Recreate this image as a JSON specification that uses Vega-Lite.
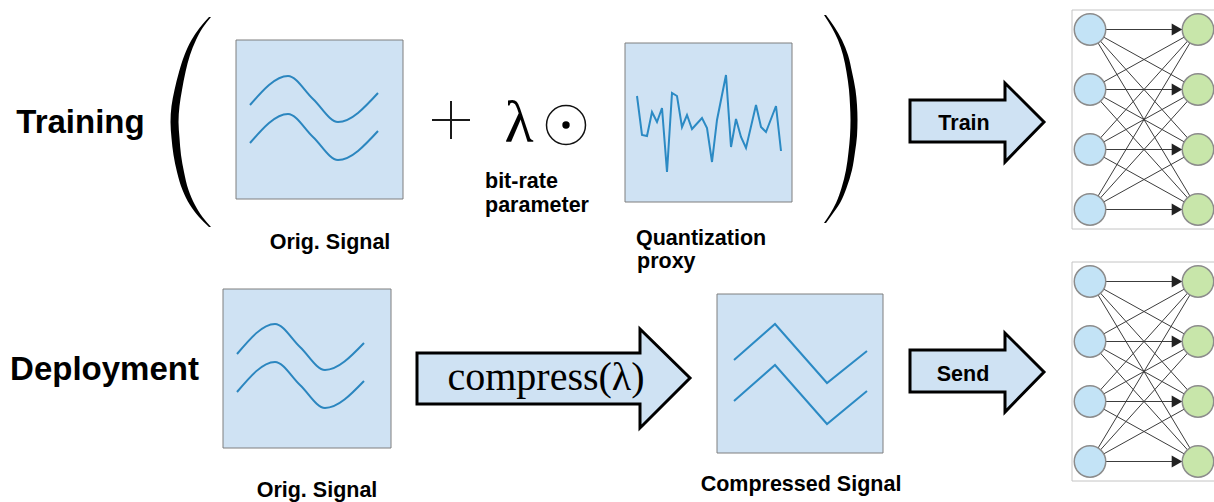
{
  "$schema": "https://vega.github.io/schema/vega-lite/v6.json",
  "width": 1214,
  "height": 502,
  "padding": 0,
  "autosize": {"type": "fit", "contains": "padding"},
  "background": "white",
  "config": {"view": {"stroke": null}},
  "datasets": {
    "nnbox": [
      {"x": 1072, "x2": 1222, "y": 10, "y2": 229},
      {"x": 1072, "x2": 1222, "y": 262, "y2": 481}
    ],
    "edges": [
      {"x": 1090, "y": 29.5, "x2": 1198, "y2": 29.5}, {"x": 1090, "y": 29.5, "x2": 1198, "y2": 89.5}, {"x": 1090, "y": 29.5, "x2": 1198, "y2": 149.5}, {"x": 1090, "y": 29.5, "x2": 1198, "y2": 209.5},
      {"x": 1090, "y": 89.5, "x2": 1198, "y2": 29.5}, {"x": 1090, "y": 89.5, "x2": 1198, "y2": 89.5}, {"x": 1090, "y": 89.5, "x2": 1198, "y2": 149.5}, {"x": 1090, "y": 89.5, "x2": 1198, "y2": 209.5},
      {"x": 1090, "y": 149.5, "x2": 1198, "y2": 29.5}, {"x": 1090, "y": 149.5, "x2": 1198, "y2": 89.5}, {"x": 1090, "y": 149.5, "x2": 1198, "y2": 149.5}, {"x": 1090, "y": 149.5, "x2": 1198, "y2": 209.5},
      {"x": 1090, "y": 209.5, "x2": 1198, "y2": 29.5}, {"x": 1090, "y": 209.5, "x2": 1198, "y2": 89.5}, {"x": 1090, "y": 209.5, "x2": 1198, "y2": 149.5}, {"x": 1090, "y": 209.5, "x2": 1198, "y2": 209.5},
      {"x": 1090, "y": 281.5, "x2": 1198, "y2": 281.5}, {"x": 1090, "y": 281.5, "x2": 1198, "y2": 341.5}, {"x": 1090, "y": 281.5, "x2": 1198, "y2": 401.5}, {"x": 1090, "y": 281.5, "x2": 1198, "y2": 461.5},
      {"x": 1090, "y": 341.5, "x2": 1198, "y2": 281.5}, {"x": 1090, "y": 341.5, "x2": 1198, "y2": 341.5}, {"x": 1090, "y": 341.5, "x2": 1198, "y2": 401.5}, {"x": 1090, "y": 341.5, "x2": 1198, "y2": 461.5},
      {"x": 1090, "y": 401.5, "x2": 1198, "y2": 281.5}, {"x": 1090, "y": 401.5, "x2": 1198, "y2": 341.5}, {"x": 1090, "y": 401.5, "x2": 1198, "y2": 401.5}, {"x": 1090, "y": 401.5, "x2": 1198, "y2": 461.5},
      {"x": 1090, "y": 461.5, "x2": 1198, "y2": 281.5}, {"x": 1090, "y": 461.5, "x2": 1198, "y2": 341.5}, {"x": 1090, "y": 461.5, "x2": 1198, "y2": 401.5}, {"x": 1090, "y": 461.5, "x2": 1198, "y2": 461.5}
    ],
    "nodes": [
      {"role": "in", "x": 1090, "y": 29.5}, {"role": "in", "x": 1090, "y": 89.5}, {"role": "in", "x": 1090, "y": 149.5}, {"role": "in", "x": 1090, "y": 209.5},
      {"role": "out", "x": 1198, "y": 29.5}, {"role": "out", "x": 1198, "y": 89.5}, {"role": "out", "x": 1198, "y": 149.5}, {"role": "out", "x": 1198, "y": 209.5},
      {"role": "in", "x": 1090, "y": 281.5}, {"role": "in", "x": 1090, "y": 341.5}, {"role": "in", "x": 1090, "y": 401.5}, {"role": "in", "x": 1090, "y": 461.5},
      {"role": "out", "x": 1198, "y": 281.5}, {"role": "out", "x": 1198, "y": 341.5}, {"role": "out", "x": 1198, "y": 401.5}, {"role": "out", "x": 1198, "y": 461.5}
    ],
    "boxes": [
      {"x": 236, "x2": 403, "y": 40, "y2": 199},
      {"x": 625, "x2": 792, "y": 43, "y2": 202},
      {"x": 223, "x2": 391, "y": 289, "y2": 448},
      {"x": 717, "x2": 883, "y": 294, "y2": 453}
    ],
    "sines": [
      {"id": "s1u", "i": 0, "x": 250, "y": 105}, {"id": "s1u", "i": 1, "x": 288, "y": 76}, {"id": "s1u", "i": 2, "x": 313, "y": 99}, {"id": "s1u", "i": 3, "x": 338, "y": 122}, {"id": "s1u", "i": 4, "x": 378, "y": 93},
      {"id": "s1l", "i": 0, "x": 250, "y": 143}, {"id": "s1l", "i": 1, "x": 288, "y": 114}, {"id": "s1l", "i": 2, "x": 313, "y": 137}, {"id": "s1l", "i": 3, "x": 338, "y": 160}, {"id": "s1l", "i": 4, "x": 378, "y": 131},
      {"id": "s3u", "i": 0, "x": 237, "y": 354}, {"id": "s3u", "i": 1, "x": 275, "y": 324}, {"id": "s3u", "i": 2, "x": 300, "y": 347}, {"id": "s3u", "i": 3, "x": 325, "y": 370}, {"id": "s3u", "i": 4, "x": 364, "y": 343},
      {"id": "s3l", "i": 0, "x": 237, "y": 392}, {"id": "s3l", "i": 1, "x": 275, "y": 362}, {"id": "s3l", "i": 2, "x": 300, "y": 385}, {"id": "s3l", "i": 3, "x": 325, "y": 408}, {"id": "s3l", "i": 4, "x": 364, "y": 381}
    ],
    "polylines": [
      {"id": "z4u", "i": 0, "x": 734, "y": 360}, {"id": "z4u", "i": 1, "x": 775, "y": 324}, {"id": "z4u", "i": 2, "x": 827, "y": 383}, {"id": "z4u", "i": 3, "x": 867, "y": 351},
      {"id": "z4l", "i": 0, "x": 734, "y": 401}, {"id": "z4l", "i": 1, "x": 775, "y": 365}, {"id": "z4l", "i": 2, "x": 827, "y": 424}, {"id": "z4l", "i": 3, "x": 867, "y": 391},
      {"id": "noise", "i": 0, "x": 637, "y": 96}, {"id": "noise", "i": 1, "x": 642, "y": 135}, {"id": "noise", "i": 2, "x": 647, "y": 136}, {"id": "noise", "i": 3, "x": 652, "y": 112},
      {"id": "noise", "i": 4, "x": 657, "y": 122}, {"id": "noise", "i": 5, "x": 662, "y": 108}, {"id": "noise", "i": 6, "x": 667, "y": 172}, {"id": "noise", "i": 7, "x": 672, "y": 93},
      {"id": "noise", "i": 8, "x": 677, "y": 96}, {"id": "noise", "i": 9, "x": 682, "y": 127}, {"id": "noise", "i": 10, "x": 687, "y": 115}, {"id": "noise", "i": 11, "x": 692, "y": 129},
      {"id": "noise", "i": 12, "x": 702, "y": 118}, {"id": "noise", "i": 13, "x": 707, "y": 128}, {"id": "noise", "i": 14, "x": 712, "y": 162}, {"id": "noise", "i": 15, "x": 717, "y": 120},
      {"id": "noise", "i": 16, "x": 726, "y": 75}, {"id": "noise", "i": 17, "x": 731, "y": 147}, {"id": "noise", "i": 18, "x": 736, "y": 119}, {"id": "noise", "i": 19, "x": 741, "y": 137},
      {"id": "noise", "i": 20, "x": 746, "y": 148}, {"id": "noise", "i": 21, "x": 756, "y": 105}, {"id": "noise", "i": 22, "x": 761, "y": 127}, {"id": "noise", "i": 23, "x": 766, "y": 132},
      {"id": "noise", "i": 24, "x": 776, "y": 106}, {"id": "noise", "i": 25, "x": 781, "y": 151}
    ],
    "parens": [
      {"side": "L", "y": 17, "x": 209, "x2": 211}, {"side": "L", "y": 28, "x": 199.5, "x2": 202.5}, {"side": "L", "y": 40, "x": 191.5, "x2": 196},
      {"side": "L", "y": 55, "x": 184.5, "x2": 190}, {"side": "L", "y": 72, "x": 179, "x2": 185.5}, {"side": "L", "y": 90, "x": 174.5, "x2": 182},
      {"side": "L", "y": 106, "x": 171.5, "x2": 179.5}, {"side": "L", "y": 122, "x": 170.5, "x2": 178.5}, {"side": "L", "y": 138, "x": 171.5, "x2": 179.5},
      {"side": "L", "y": 155, "x": 173.5, "x2": 181}, {"side": "L", "y": 172, "x": 177, "x2": 184}, {"side": "L", "y": 190, "x": 182.5, "x2": 188.5},
      {"side": "L", "y": 205, "x": 190, "x2": 195}, {"side": "L", "y": 217, "x": 199, "x2": 202.5}, {"side": "L", "y": 227, "x": 209, "x2": 211},
      {"side": "R", "y": 15, "x": 826, "x2": 824}, {"side": "R", "y": 27, "x": 834.5, "x2": 831.5}, {"side": "R", "y": 40, "x": 842, "x2": 838},
      {"side": "R", "y": 55, "x": 848, "x2": 843}, {"side": "R", "y": 72, "x": 852, "x2": 846.5}, {"side": "R", "y": 90, "x": 855.5, "x2": 849},
      {"side": "R", "y": 105, "x": 857, "x2": 850}, {"side": "R", "y": 120, "x": 857.5, "x2": 850.5}, {"side": "R", "y": 136, "x": 857, "x2": 850},
      {"side": "R", "y": 152, "x": 855, "x2": 848.5}, {"side": "R", "y": 170, "x": 852, "x2": 846}, {"side": "R", "y": 188, "x": 846.5, "x2": 841.5},
      {"side": "R", "y": 203, "x": 840, "x2": 836}, {"side": "R", "y": 214, "x": 832.5, "x2": 830}, {"side": "R", "y": 223, "x": 826, "x2": 824}
    ],
    "arrowBodies": [
      {"x": 910, "x2": 1005, "y": 100, "y2": 142},
      {"x": 910, "x2": 1005, "y": 350, "y2": 392},
      {"x": 417, "x2": 640, "y": 353, "y2": 404}
    ],
    "arrowHeads": [
      {"arrow": "train", "x": 1004, "y": 83, "y2": 162}, {"arrow": "train", "x": 1044, "y": 122, "y2": 122},
      {"arrow": "send", "x": 1004, "y": 333, "y2": 412}, {"arrow": "send", "x": 1044, "y": 372, "y2": 372},
      {"arrow": "compress", "x": 639, "y": 329, "y2": 428}, {"arrow": "compress", "x": 690, "y": 378, "y2": 378}
    ],
    "arrowOutlines": [
      {"arrow": "train", "i": 0, "x": 910, "y": 100}, {"arrow": "train", "i": 1, "x": 1005, "y": 100}, {"arrow": "train", "i": 2, "x": 1005, "y": 83}, {"arrow": "train", "i": 3, "x": 1044, "y": 122},
      {"arrow": "train", "i": 4, "x": 1005, "y": 162}, {"arrow": "train", "i": 5, "x": 1005, "y": 142}, {"arrow": "train", "i": 6, "x": 910, "y": 142}, {"arrow": "train", "i": 7, "x": 910, "y": 100},
      {"arrow": "send", "i": 0, "x": 910, "y": 350}, {"arrow": "send", "i": 1, "x": 1005, "y": 350}, {"arrow": "send", "i": 2, "x": 1005, "y": 333}, {"arrow": "send", "i": 3, "x": 1044, "y": 372},
      {"arrow": "send", "i": 4, "x": 1005, "y": 412}, {"arrow": "send", "i": 5, "x": 1005, "y": 392}, {"arrow": "send", "i": 6, "x": 910, "y": 392}, {"arrow": "send", "i": 7, "x": 910, "y": 350},
      {"arrow": "compress", "i": 0, "x": 417, "y": 353}, {"arrow": "compress", "i": 1, "x": 640, "y": 353}, {"arrow": "compress", "i": 2, "x": 640, "y": 329}, {"arrow": "compress", "i": 3, "x": 690, "y": 378},
      {"arrow": "compress", "i": 4, "x": 640, "y": 428}, {"arrow": "compress", "i": 5, "x": 640, "y": 404}, {"arrow": "compress", "i": 6, "x": 417, "y": 404}, {"arrow": "compress", "i": 7, "x": 417, "y": 353}
    ],
    "plus": [
      {"x": 432, "y": 120, "x2": 470, "y2": 120},
      {"x": 451, "y": 101, "x2": 451, "y2": 139}
    ],
    "odot": [{"x": 566, "y": 125}],
    "bigLabels": [
      {"t": "Training", "x": 80.5, "y": 133},
      {"t": "Deployment", "x": 104.5, "y": 380}
    ],
    "centerLabels": [
      {"t": "Orig. Signal", "x": 330, "y": 249},
      {"t": "Orig. Signal", "x": 317, "y": 497},
      {"t": "Compressed Signal", "x": 801, "y": 491},
      {"t": "Train", "x": 964, "y": 130},
      {"t": "Send", "x": 963, "y": 381}
    ],
    "leftLabels": [
      {"t": "bit-rate", "x": 485, "y": 188},
      {"t": "parameter", "x": 485, "y": 212},
      {"t": "Quantization", "x": 636, "y": 245},
      {"t": "proxy", "x": 637, "y": 268}
    ],
    "mathText": [{"t": "compress(λ)", "x": 546, "y": 390}],
    "lambda": [{"t": "λ", "x": 519, "y": 142}]
  },
  "encoding": {
    "x": {"field": "x", "type": "quantitative", "scale": {"domain": [0, 1214], "nice": false, "zero": false}, "axis": null},
    "y": {"field": "y", "type": "quantitative", "scale": {"domain": [0, 502], "nice": false, "zero": false, "reverse": true}, "axis": null}
  },
  "layer": [
    {
      "data": {"name": "nnbox"},
      "mark": {"type": "rect", "fill": "white", "stroke": "#c4c4c4", "strokeWidth": 1, "clip": true},
      "encoding": {"x2": {"field": "x2"}, "y2": {"field": "y2"}}
    },
    {
      "data": {"name": "edges"},
      "mark": {"type": "rule", "stroke": "#3c3c3c", "strokeWidth": 1},
      "encoding": {"x2": {"field": "x2"}, "y2": {"field": "y2"}}
    },
    {
      "data": {"name": "nodes"},
      "transform": [{"filter": "datum.role === 'out'"}],
      "mark": {"type": "point", "shape": "triangle-right", "filled": true, "fill": "#222222", "stroke": null, "size": 150, "opacity": 1, "xOffset": -21},
      "encoding": {}
    },
    {
      "data": {"name": "nodes"},
      "mark": {"type": "point", "shape": "circle", "filled": true, "size": 990, "stroke": "#8c8c8c", "strokeWidth": 1.5, "opacity": 1, "clip": true},
      "encoding": {
        "fill": {"field": "role", "type": "nominal", "scale": {"domain": ["in", "out"], "range": ["#c3e3f6", "#c8e6aa"]}, "legend": null}
      }
    },
    {
      "data": {"name": "boxes"},
      "mark": {"type": "rect", "fill": "#cfe2f3", "stroke": "#7f7f7f", "strokeWidth": 1},
      "encoding": {"x2": {"field": "x2"}, "y2": {"field": "y2"}}
    },
    {
      "data": {"name": "sines"},
      "mark": {"type": "line", "interpolate": "monotone", "stroke": "#2b86bf", "strokeWidth": 2},
      "encoding": {"detail": {"field": "id"}, "order": {"field": "i", "type": "quantitative"}}
    },
    {
      "data": {"name": "polylines"},
      "mark": {"type": "line", "interpolate": "linear", "stroke": "#2b8ac4", "strokeWidth": 2, "strokeJoin": "miter"},
      "encoding": {"detail": {"field": "id"}, "order": {"field": "i", "type": "quantitative"}}
    },
    {
      "data": {"name": "arrowBodies"},
      "mark": {"type": "rect", "fill": "#cfe2f3", "stroke": null},
      "encoding": {"x2": {"field": "x2"}, "y2": {"field": "y2"}}
    },
    {
      "data": {"name": "arrowHeads"},
      "mark": {"type": "area", "orient": "vertical", "interpolate": "linear", "fill": "#cfe2f3", "fillOpacity": 1, "stroke": null},
      "encoding": {"y": {"field": "y", "type": "quantitative", "stack": null}, "y2": {"field": "y2"}, "detail": {"field": "arrow"}}
    },
    {
      "data": {"name": "arrowOutlines"},
      "mark": {"type": "line", "interpolate": "linear", "stroke": "#000000", "strokeWidth": 3, "strokeJoin": "miter", "strokeCap": "square"},
      "encoding": {"detail": {"field": "arrow"}, "order": {"field": "i", "type": "quantitative"}}
    },
    {
      "data": {"name": "parens"},
      "mark": {"type": "area", "orient": "horizontal", "interpolate": "monotone", "fill": "#000000", "fillOpacity": 1, "stroke": null},
      "encoding": {"x": {"field": "x", "type": "quantitative", "stack": null}, "x2": {"field": "x2"}, "detail": {"field": "side"}}
    },
    {
      "data": {"name": "plus"},
      "mark": {"type": "rule", "stroke": "#1a1a1a", "strokeWidth": 2},
      "encoding": {"x2": {"field": "x2"}, "y2": {"field": "y2"}}
    },
    {
      "data": {"name": "odot"},
      "mark": {"type": "point", "shape": "circle", "filled": false, "size": 1520, "stroke": "#111111", "strokeWidth": 1.5, "opacity": 1},
      "encoding": {}
    },
    {
      "data": {"name": "odot"},
      "mark": {"type": "point", "shape": "circle", "filled": true, "size": 55, "fill": "#000000", "opacity": 1, "stroke": null},
      "encoding": {}
    },
    {
      "data": {"name": "bigLabels"},
      "mark": {"type": "text", "font": "Liberation Sans", "fontWeight": "bold", "fontSize": 33, "align": "center", "baseline": "alphabetic", "fill": "#000000"},
      "encoding": {"text": {"field": "t"}}
    },
    {
      "data": {"name": "centerLabels"},
      "mark": {"type": "text", "font": "Liberation Sans", "fontWeight": "bold", "fontSize": 21.5, "align": "center", "baseline": "alphabetic", "fill": "#000000"},
      "encoding": {"text": {"field": "t"}}
    },
    {
      "data": {"name": "leftLabels"},
      "mark": {"type": "text", "font": "Liberation Sans", "fontWeight": "bold", "fontSize": 21.5, "align": "left", "baseline": "alphabetic", "fill": "#000000"},
      "encoding": {"text": {"field": "t"}}
    },
    {
      "data": {"name": "mathText"},
      "mark": {"type": "text", "font": "Liberation Serif", "fontSize": 40, "align": "center", "baseline": "alphabetic", "fill": "#000000"},
      "encoding": {"text": {"field": "t"}}
    },
    {
      "data": {"name": "lambda"},
      "mark": {"type": "text", "font": "Liberation Serif", "fontSize": 60, "align": "center", "baseline": "alphabetic", "fill": "#000000"},
      "encoding": {"text": {"field": "t"}}
    }
  ]
}
